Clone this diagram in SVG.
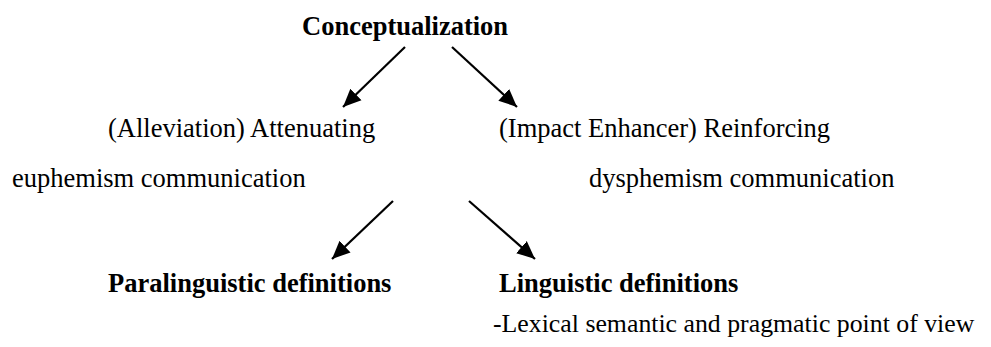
<svg xmlns="http://www.w3.org/2000/svg" width="991" height="347" viewBox="0 0 991 347">
<style>
text{font-family:"Liberation Serif","Times New Roman",serif;font-size:26.5px;fill:#000}
.b{font-weight:bold}
.c line{stroke:#000;stroke-width:2.2}
</style>
<defs>
<marker id="ah" markerUnits="userSpaceOnUse" markerWidth="20" markerHeight="20" viewBox="0 0 20 20" refX="18" refY="10" orient="auto">
<path d="M0,2 L18,10 L0,18 Z" fill="#000"/>
</marker>
</defs>
<rect width="991" height="347" fill="#fff"/>
<g id="conceptualization"><text class="b" x="302" y="35">Conceptualization</text></g>
<g id="attenuating"><text x="108" y="137">(Alleviation) Attenuating</text><text x="12" y="187">euphemism communication</text></g>
<g id="reinforcing"><text x="499" y="137">(Impact Enhancer) Reinforcing</text><text x="589" y="187">dysphemism communication</text></g>
<g id="paralinguistic"><text class="b" x="108" y="292">Paralinguistic definitions</text></g>
<g id="linguistic"><text class="b" x="499" y="292">Linguistic definitions</text><text x="493" y="332" style="font-size:25.8px">-Lexical semantic and pragmatic point of view</text></g>
<g class="c" id="connectors">
<line x1="405" y1="47" x2="343" y2="107" marker-end="url(#ah)"/>
<line x1="452" y1="47" x2="517" y2="107" marker-end="url(#ah)"/>
<line x1="393" y1="201" x2="332" y2="259" marker-end="url(#ah)"/>
<line x1="469" y1="201" x2="535" y2="259" marker-end="url(#ah)"/>
</g>
</svg>
